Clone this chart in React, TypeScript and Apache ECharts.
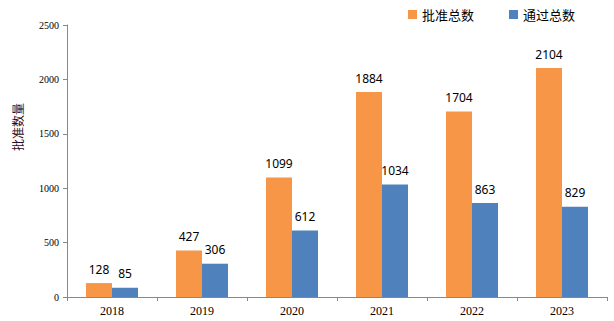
import React, { useEffect, useRef } from "react";
import * as echarts from "echarts";

const categories = ["2018", "2019", "2020", "2021", "2022", "2023"];
const approvedTotal = [128, 427, 1099, 1884, 1704, 2104];
const passedTotal = [85, 306, 612, 1034, 863, 829];
const seriesNames = ["批准总数", "通过总数"];
const yAxisName = "批准数量";

export default function App() {
  const ref = useRef<HTMLDivElement>(null);
  useEffect(() => {
    const chart = echarts.init(ref.current!, null, { renderer: "svg" });
    const labelStyle = {
      show: true,
      position: "top" as const,
      distance: 8,
      color: "#000",
      fontSize: 12,
      fontFamily: "Noto Sans, sans-serif",
    };
    chart.setOption({
      animation: false,
      backgroundColor: "#fff",
      legend: {
        top: 3,
        left: 403,
        itemWidth: 9,
        itemHeight: 9,
        itemGap: 35,
        icon: "rect",
        textStyle: { fontSize: 13, color: "#000", fontFamily: "Noto Sans CJK SC" },
        data: seriesNames,
      },
      graphic: [
        {
          type: "text",
          x: 17,
          y: 127,
          rotation: Math.PI / 2,
          style: {
            text: yAxisName,
            fill: "#2a0a2a",
            fontSize: 12,
            fontFamily: "Noto Sans CJK SC",
            align: "center",
            verticalAlign: "middle",
          },
        },
      ],
      grid: { left: 67, right: 7, top: 25, bottom: 24 },
      xAxis: {
        type: "category",
        data: categories,
        axisLine: { lineStyle: { color: "#888", width: 1 } },
        axisTick: { show: true, length: 4, lineStyle: { color: "#888" } },
        axisLabel: {
          color: "#000",
          fontSize: 12,
          fontFamily: "Liberation Serif, serif",
          margin: 8,
        },
      },
      yAxis: {
        type: "value",
        min: 0,
        max: 2500,
        interval: 500,
        axisLine: { show: true, lineStyle: { color: "#888", width: 1 } },
        axisTick: { show: true, length: 4, inside: false, lineStyle: { color: "#888" } },
        splitLine: { show: false },
        axisLabel: {
          color: "#000",
          fontSize: 10,
          fontFamily: "Liberation Serif, serif",
          margin: 8,
          formatter: (v: number) => String(v),
        },
      },
      series: [
        {
          name: seriesNames[0],
          type: "bar",
          data: approvedTotal,
          barWidth: 26,
          barGap: "0%",
          itemStyle: { color: "#F79646" },
          label: labelStyle,
        },
        {
          name: seriesNames[1],
          type: "bar",
          data: passedTotal,
          barWidth: 26,
          barGap: "0%",
          itemStyle: { color: "#4F81BD" },
          label: labelStyle,
        },
      ],
    });
    return () => chart.dispose();
  }, []);
  return <div ref={ref} style={{ width: 614, height: 321, position: "absolute", left: 0, top: 0 }} />;
}
